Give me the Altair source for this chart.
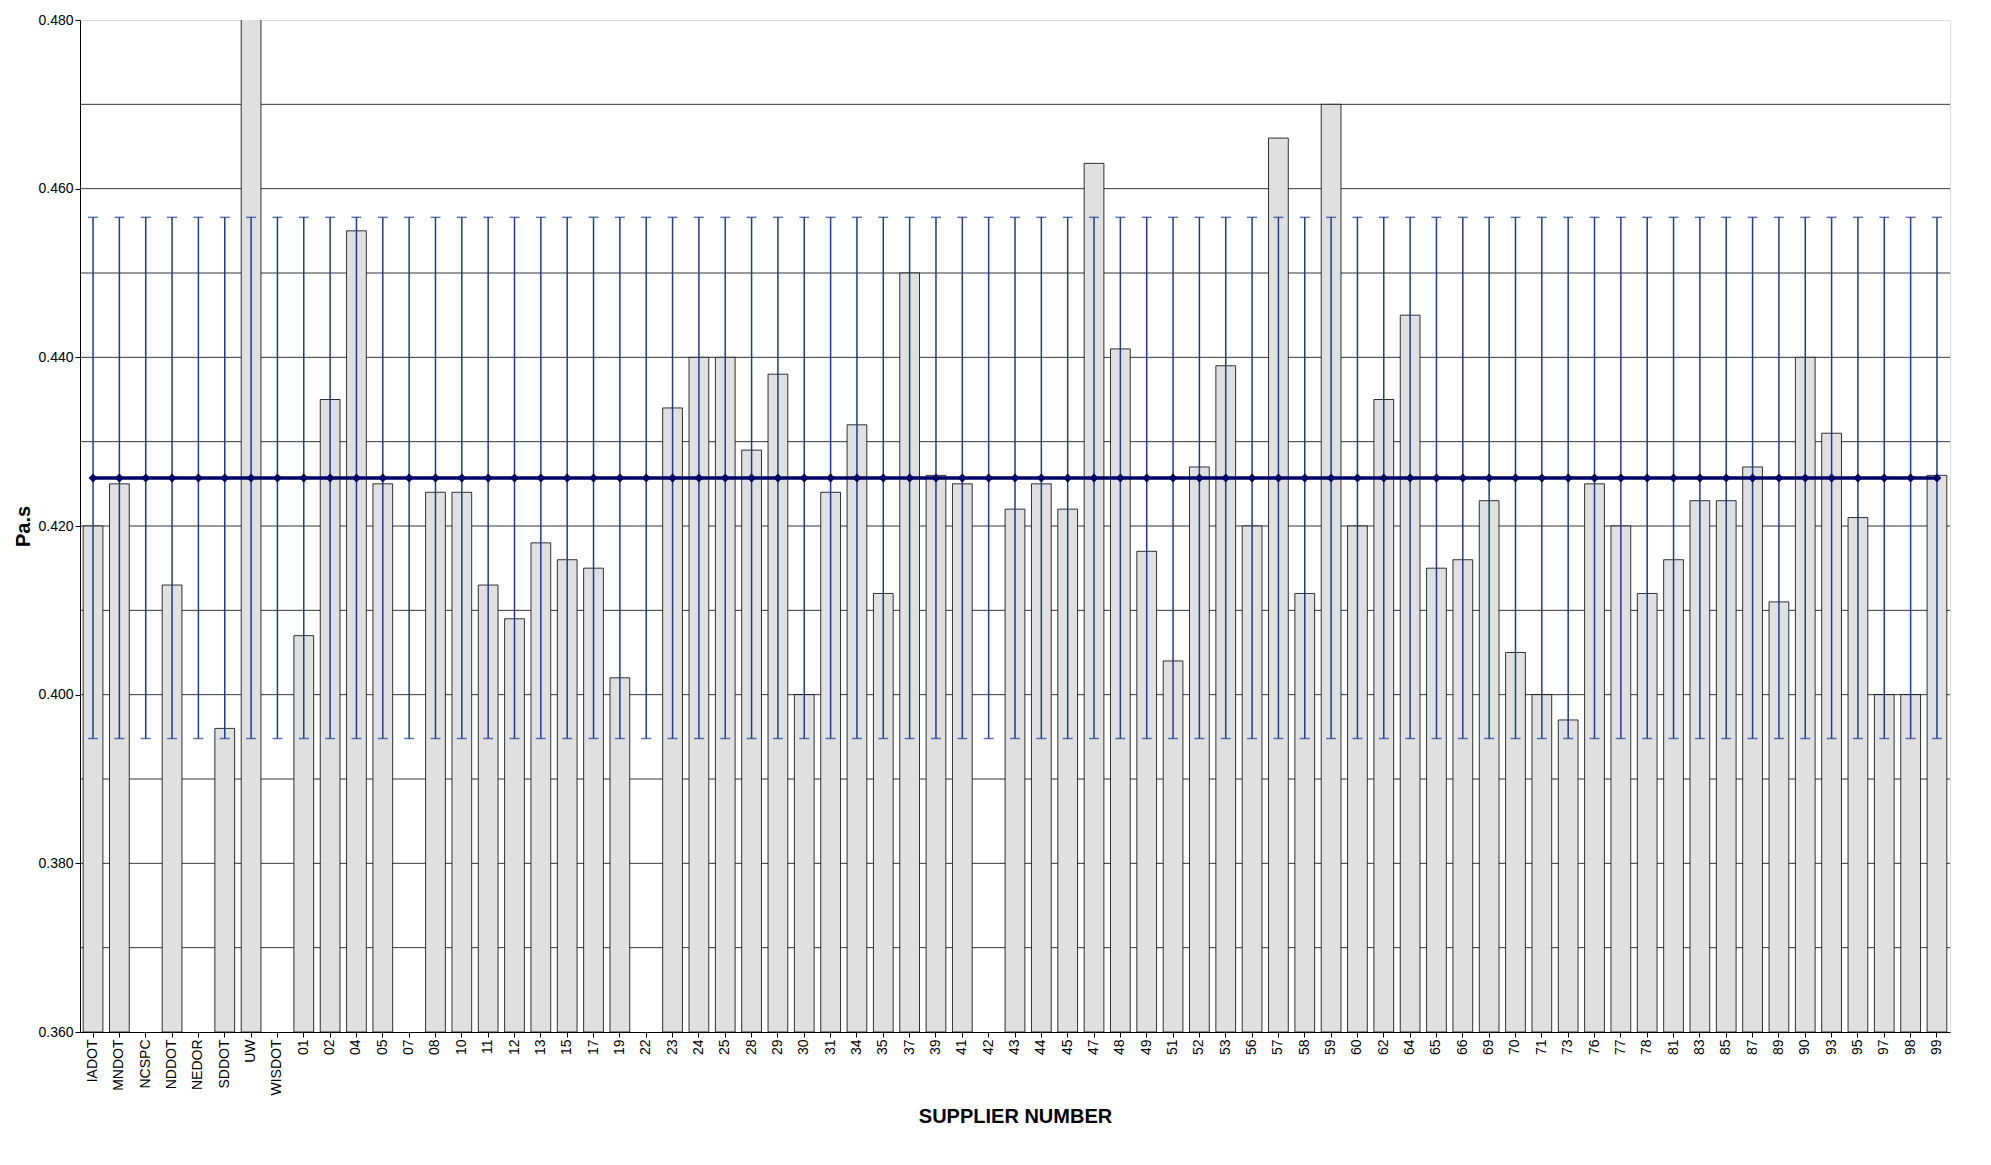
import altair as alt
import pandas as pd

suppliers = ["IADOT", "MNDOT", "NCSPC", "NDDOT", "NEDOR", "SDDOT", "UW", "WISDOT",
             "01", "02", "04", "05", "07", "08", "10", "11", "12", "13", "15", "17",
             "19", "22", "23", "24", "25", "28", "29", "30", "31", "34", "35", "37",
             "39", "41", "42", "43", "44", "45", "47", "48", "49", "51", "52", "53",
             "56", "57", "58", "59", "60", "62", "64", "65", "66", "69", "70", "71",
             "73", "76", "77", "78", "81", "83", "85", "87", "89", "90", "93", "95",
             "97", "98", "99"]
values = [0.420, 0.425, None, 0.413, None, 0.396, 0.490, None,
          0.407, 0.435, 0.455, 0.425, None, 0.424, 0.424, 0.413, 0.409, 0.418, 0.416, 0.415,
          0.402, None, 0.434, 0.440, 0.440, 0.429, 0.438, 0.400, 0.424, 0.432, 0.412, 0.450,
          0.426, 0.425, None, 0.422, 0.425, 0.422, 0.463, 0.441, 0.417, 0.404, 0.427, 0.439,
          0.420, 0.466, 0.412, 0.470, 0.420, 0.435, 0.445, 0.415, 0.416, 0.423, 0.405, 0.400,
          0.397, 0.425, 0.420, 0.412, 0.416, 0.423, 0.423, 0.427, 0.411, 0.440, 0.431, 0.421,
          0.400, 0.400, 0.426]
mean_value = 0.4257
low_limit = 0.3948
high_limit = 0.4566
y_ticks = [0.36, 0.38, 0.40, 0.42, 0.44, 0.46, 0.48]

df = pd.DataFrame({"supplier": suppliers, "value": values})
df["base"] = 0.36
df["mean"] = mean_value
df["low"] = low_limit
df["high"] = high_limit

font = "Liberation Sans"
x = alt.X("supplier:N", sort=suppliers, title="SUPPLIER NUMBER",
          scale=alt.Scale(paddingInner=0.25, paddingOuter=0.12),
          axis=alt.Axis(labelAngle=-90, labelFontSize=14, labelColor="black",
                        titleFontSize=20, titleFont=font, labelFont=font,
                        titlePadding=12, domainColor="black", tickColor="black",
                        grid=False))
yscale = alt.Scale(domain=[0.36, 0.48], zero=False, nice=False)
base = alt.Chart(df)

bars = base.mark_bar(color="#e0e0e0", stroke="black", strokeWidth=0.8, clip=True).encode(
    x=x,
    y=alt.Y("value:Q", scale=yscale, title="Pa.s",
            axis=alt.Axis(values=y_ticks, format=".3f", labelFontSize=14, labelFont=font,
                          titleFont=font, titleFontSize=20, labelColor="black",
                          grid=False, domainColor="black", tickColor="black")),
    y2="base:Q",
).transform_filter("isValid(datum.value)")

grid = alt.Chart(pd.DataFrame({"g": [0.37 + 0.01 * i for i in range(11)]})).mark_rule(
    color="black", strokeWidth=0.8).encode(y=alt.Y("g:Q", scale=yscale))

err = base.mark_rule(color="#1f3d8a", strokeWidth=1.5).encode(
    x=x, y=alt.Y("low:Q", scale=yscale), y2="high:Q")
cap_lo = base.mark_tick(color="#1f3d8a", thickness=1.5, size=10, orient="horizontal").encode(
    x=x, y=alt.Y("low:Q", scale=yscale))
cap_hi = base.mark_tick(color="#1f3d8a", thickness=1.5, size=10, orient="horizontal").encode(
    x=x, y=alt.Y("high:Q", scale=yscale))
line = base.mark_line(color="#000066", strokeWidth=3.5).encode(
    x=x, y=alt.Y("mean:Q", scale=yscale))
pts = base.mark_point(color="#000066", size=80, shape="diamond", filled=True, opacity=1).encode(
    x=x, y=alt.Y("mean:Q", scale=yscale))

chart = alt.layer(grid, bars, err, cap_lo, cap_hi, line, pts).properties(
    width=1870, height=1012
).configure_view(stroke="black", strokeWidth=1).configure(background="white")

chart.save("out.html", embed_options={"renderer": "svg", "actions": False})
